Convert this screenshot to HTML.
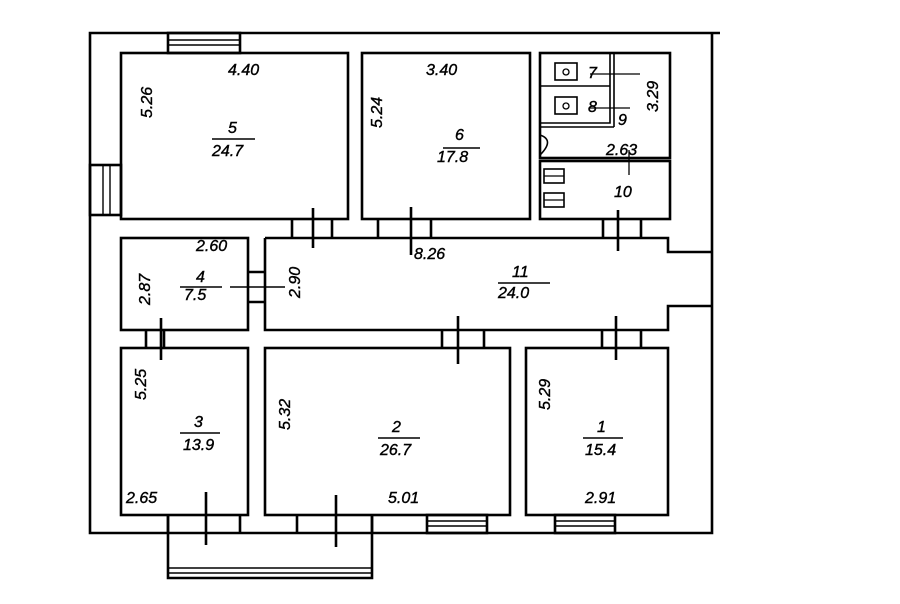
<!DOCTYPE html>
<html><head><meta charset="utf-8"><style>
html,body{margin:0;padding:0;background:#fff;}
svg{display:block;}
text{font-family:"Liberation Sans",sans-serif;font-style:italic;font-size:16px;fill:#000;stroke:#000;stroke-width:0.4;}
</style></head><body>
<svg width="900" height="604" viewBox="0 0 900 604" xmlns="http://www.w3.org/2000/svg">
<g fill="none" stroke="#000" stroke-width="2.6">
<polyline points="720,33 90,33 90,533 168,533"/>
<polyline points="372,533 712,533 712,33"/>
<line x1="168" y1="533" x2="372" y2="533"/>
<polyline points="168,515 168,578 372,578 372,515"/>
<line x1="168" y1="568" x2="372" y2="568" stroke-width="1.4"/>
<line x1="168" y1="573" x2="372" y2="573" stroke-width="1.4"/>
<rect x="121" y="53" width="227" height="166"/>
<rect x="362" y="53" width="168" height="166"/>
<rect x="540" y="53" width="130" height="105"/>
<rect x="540" y="161" width="130" height="58"/>
<rect x="121" y="238" width="127" height="92"/>
<polyline points="265,238 668,238 668,252 712,252"/>
<polyline points="712,306 668,306 668,330 265,330 265,238"/>
<rect x="121" y="348" width="127" height="167"/>
<rect x="265" y="348" width="245" height="167"/>
<rect x="526" y="348" width="142" height="167"/>
<rect x="168" y="33" width="72" height="20"/>
<line x1="168" y1="40" x2="240" y2="40" stroke-width="1.4"/>
<line x1="168" y1="45" x2="240" y2="45" stroke-width="1.4"/>
<rect x="90" y="165" width="31" height="50"/>
<line x1="103" y1="165" x2="103" y2="215" stroke-width="1.4"/>
<line x1="110" y1="165" x2="110" y2="215" stroke-width="1.4"/>
<rect x="427" y="515" width="60" height="18"/>
<line x1="427" y1="521" x2="487" y2="521" stroke-width="1.4"/>
<line x1="427" y1="526" x2="487" y2="526" stroke-width="1.4"/>
<rect x="555" y="515" width="60" height="18"/>
<line x1="555" y1="521" x2="615" y2="521" stroke-width="1.4"/>
<line x1="555" y1="526" x2="615" y2="526" stroke-width="1.4"/>
<line x1="292" y1="219" x2="292" y2="238"/><line x1="332" y1="219" x2="332" y2="238"/><line x1="313" y1="208" x2="313" y2="248"/>
<line x1="378" y1="219" x2="378" y2="238"/><line x1="431" y1="219" x2="431" y2="238"/><line x1="411" y1="207" x2="411" y2="255"/>
<line x1="603" y1="219" x2="603" y2="238"/><line x1="641" y1="219" x2="641" y2="238"/><line x1="618" y1="210" x2="618" y2="251"/>
<line x1="248" y1="272" x2="265" y2="272"/><line x1="248" y1="302" x2="265" y2="302"/>
<line x1="230" y1="287" x2="285" y2="287" stroke-width="1.6"/>
<line x1="146" y1="330" x2="146" y2="348"/><line x1="164" y1="330" x2="164" y2="348"/><line x1="161" y1="318" x2="161" y2="360"/>
<line x1="442" y1="330" x2="442" y2="348"/><line x1="484" y1="330" x2="484" y2="348"/><line x1="458" y1="316" x2="458" y2="364"/>
<line x1="602" y1="330" x2="602" y2="348"/><line x1="641" y1="330" x2="641" y2="348"/><line x1="616" y1="316" x2="616" y2="360"/>
<line x1="168" y1="515" x2="168" y2="533"/><line x1="240" y1="515" x2="240" y2="533"/><line x1="206" y1="492" x2="206" y2="545"/>
<line x1="297" y1="515" x2="297" y2="533"/><line x1="372" y1="515" x2="372" y2="533"/><line x1="336" y1="495" x2="336" y2="547"/>
<line x1="540" y1="86" x2="610" y2="86" stroke-width="1.6"/>
<polyline points="540,123 610,123 610,53" stroke-width="1.6"/>
<line x1="614" y1="53" x2="614" y2="127" stroke-width="1.6"/>
<polyline points="540,127 614,127" stroke-width="1.6"/>
<rect x="555" y="63" width="22" height="17" stroke-width="1.6"/>
<rect x="555" y="97" width="22" height="17" stroke-width="1.6"/>
<circle cx="566" cy="72" r="3" stroke-width="1.3"/><circle cx="566" cy="106" r="3" stroke-width="1.3"/>
<line x1="590" y1="74" x2="640" y2="74" stroke-width="1.3"/>
<line x1="590" y1="108" x2="630" y2="108" stroke-width="1.3"/>
<path d="M540,135 Q555,140 540,155" stroke-width="1.6"/>
<line x1="629" y1="150" x2="629" y2="175" stroke-width="1.3"/>
<rect x="544" y="169" width="20" height="14" stroke-width="1.6"/>
<rect x="544" y="193" width="20" height="14" stroke-width="1.6"/>
<line x1="544" y1="176" x2="564" y2="176" stroke-width="1.3"/>
<line x1="544" y1="200" x2="564" y2="200" stroke-width="1.3"/>
<line x1="212" y1="139" x2="255" y2="139" stroke-width="1.6"/>
<line x1="443" y1="148" x2="480" y2="148" stroke-width="1.6"/>
<line x1="180" y1="287" x2="222" y2="287" stroke-width="1.6"/>
<line x1="498" y1="283" x2="550" y2="283" stroke-width="1.6"/>
<line x1="180" y1="433" x2="220" y2="433" stroke-width="1.6"/>
<line x1="378" y1="438" x2="420" y2="438" stroke-width="1.6"/>
<line x1="583" y1="438" x2="623" y2="438" stroke-width="1.6"/>
</g>
<text x="228" y="75">4.40</text>
<text x="426" y="75">3.40</text>
<text x="606" y="155">2.63</text>
<text x="196" y="251">2.60</text>
<text x="414" y="259">8.26</text>
<text x="126" y="503">2.65</text>
<text x="388" y="503">5.01</text>
<text x="585" y="503">2.91</text>
<text x="228" y="133">5</text><text x="212" y="156">24.7</text>
<text x="455" y="140">6</text><text x="437" y="162">17.8</text>
<text x="196" y="282">4</text><text x="184" y="300">7.5</text>
<text x="512" y="277">11</text><text x="498" y="298">24.0</text>
<text x="194" y="427">3</text><text x="183" y="450">13.9</text>
<text x="392" y="432">2</text><text x="380" y="455">26.7</text>
<text x="597" y="432">1</text><text x="585" y="455">15.4</text>
<text x="588" y="78">7</text><text x="588" y="112">8</text>
<text x="618" y="125">9</text><text x="614" y="197">10</text>
<g>
<text transform="translate(152,118) rotate(-90)">5.26</text>
<text transform="translate(382,128) rotate(-90)">5.24</text>
<text transform="translate(658,112) rotate(-90)">3.29</text>
<text transform="translate(150,305) rotate(-90)">2.87</text>
<text transform="translate(300,298) rotate(-90)">2.90</text>
<text transform="translate(146,400) rotate(-90)">5.25</text>
<text transform="translate(290,430) rotate(-90)">5.32</text>
<text transform="translate(550,410) rotate(-90)">5.29</text>
</g>
</svg>
</body></html>
